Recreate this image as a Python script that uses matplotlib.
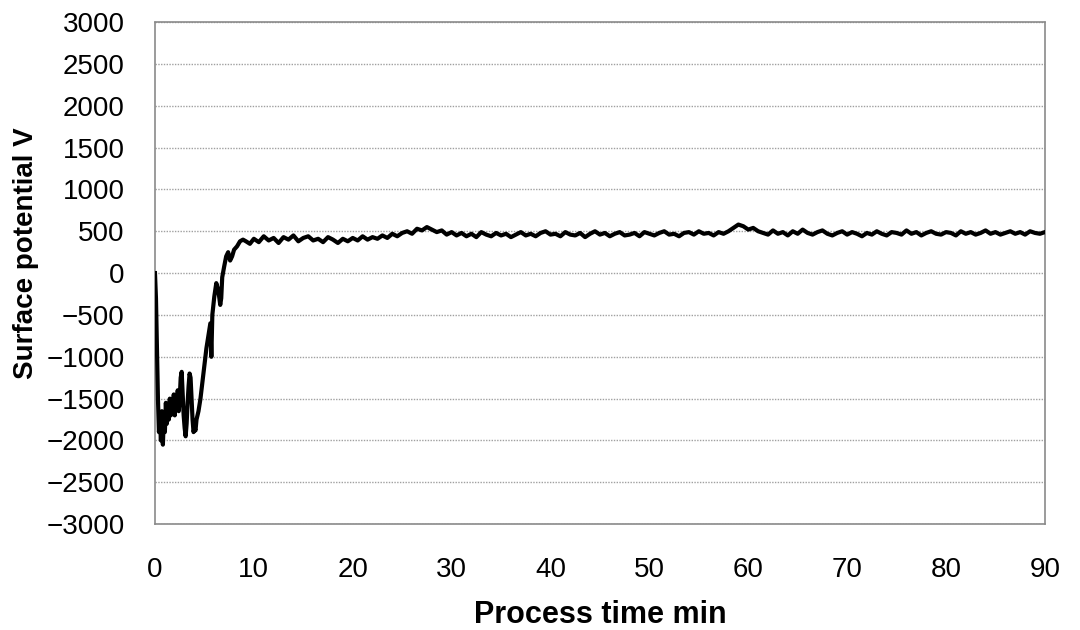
import matplotlib
matplotlib.use('Agg')
import matplotlib.pyplot as plt
import numpy as np

# early transient, read point by point (min, V)
t_start = [0.0, 0.1, 0.2, 0.3, 0.4, 0.5, 0.6, 0.7, 0.8, 0.9, 1.0, 1.1, 1.2, 1.3, 1.4,
           1.5, 1.6, 1.7, 1.8, 1.9, 2.0, 2.1, 2.2, 2.3, 2.4, 2.5, 2.6, 2.7, 2.8, 2.9,
           3.0, 3.1, 3.2, 3.3, 3.4, 3.5, 3.6, 3.7, 3.8, 3.9, 4.0, 4.1, 4.2, 4.4, 4.6,
           4.8, 5.0, 5.2, 5.4, 5.6, 5.7, 5.8, 6.0, 6.2, 6.4, 6.6, 6.7, 6.8, 7.0, 7.2,
           7.4, 7.6, 7.8, 8.0, 8.3, 8.6, 8.9, 9.2, 9.6]
v_start = [0, -300, -900, -1500, -1900, -1750, -2000, -1650, -2050, -1700, -1900, -1550,
           -1800, -1600, -1750, -1500, -1700, -1550, -1650, -1450, -1700, -1500, -1600,
           -1400, -1650, -1500, -1250, -1180, -1450, -1700, -1850, -1950, -1800, -1550,
           -1350, -1200, -1250, -1500, -1750, -1900, -1850, -1880, -1750, -1650, -1500,
           -1300, -1100, -900, -750, -600, -1000, -500, -280, -120, -200, -380, -300,
           -50, 80, 200, 250, 150, 200, 280, 320, 380, 400, 380, 350]

# plateau, 10 .. 90 min every 0.5 min
v_10_25 = [410, 370, 440, 390, 420, 360, 430, 400, 450, 380, 420, 440, 390, 410, 370, 430,
           400, 360, 410, 380, 420, 390, 440, 400, 430, 410, 450, 420, 470, 440, 480]
v_25_30 = [500, 470, 530, 510, 550, 520, 490, 510, 460, 490]
v_30_58 = [450, 480, 440, 470, 430, 490, 460, 440, 480, 450, 470, 430, 460, 490, 450, 470,
           440, 480, 500, 460, 470, 440, 490, 460, 450, 480, 430, 470, 500, 460, 480, 440,
           470, 490, 450, 460, 480, 440, 490, 470, 450, 480, 500, 460, 470, 440, 480, 490,
           460, 500, 470, 480, 450, 490, 470, 500]
v_58_61 = [540, 580, 560, 520, 540, 500]
v_61_90 = [480, 460, 510, 470, 490, 450, 500, 470, 520, 480, 460, 490, 510, 470, 450, 480,
           500, 460, 490, 470, 440, 480, 460, 500, 470, 450, 490, 480, 460, 510, 470, 490,
           450, 480, 500, 470, 460, 490, 480, 450, 500, 470, 490, 460, 480, 510, 470, 490,
           460, 480, 500, 470, 490, 460, 500, 480, 470, 490]

v_plateau = v_10_25 + v_25_30 + v_30_58 + v_58_61 + v_61_90
t_plateau = np.arange(10, 90.01, 0.5)

t = np.concatenate([t_start, t_plateau])
v = np.concatenate([v_start, v_plateau])

y_ticks = [-3000, -2500, -2000, -1500, -1000, -500, 0, 500, 1000, 1500, 2000, 2500, 3000]
x_ticks = [0, 10, 20, 30, 40, 50, 60, 70, 80, 90]

plt.rcParams['font.family'] = ['Liberation Sans', 'DejaVu Sans']

fig = plt.figure(figsize=(10.8, 6.3), dpi=100)
ax = fig.add_axes([0.1435, 0.168, 0.824, 0.797])

for yv in y_ticks:
    ax.axhline(yv, color='#a0a0a0', linewidth=1.0, linestyle=(0, (1, 1)), zorder=1)

ax.plot(t, v, color='black', linewidth=3.0, zorder=3)

ax.set_xlim(0, 90)
ax.set_ylim(-3000, 3000)
ax.set_xticks(x_ticks)
ax.set_yticks(y_ticks)
ax.tick_params(length=0, labelsize=20)
ax.tick_params(axis='x', pad=24)
ax.tick_params(axis='y', pad=22)
for s in ax.spines.values():
    s.set_color('#8a8a8a')
    s.set_linewidth(1.2)
    s.set_linestyle((0, (1, 1)))

ax.set_xlabel('Process time min', fontsize=22, fontweight='bold', labelpad=12)
ax.set_ylabel('Surface potential V', fontsize=20, fontweight='bold')
ax.yaxis.set_label_coords(-0.13, 0.54)

fig.savefig('out.png', dpi=100)
